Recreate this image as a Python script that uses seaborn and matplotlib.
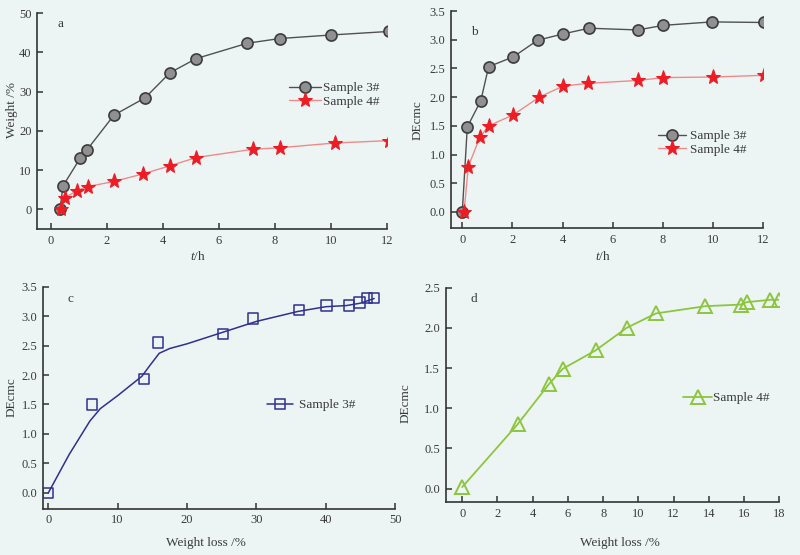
import numpy as np
import pandas as pd
import matplotlib
matplotlib.use("Agg")
import matplotlib.pyplot as plt
import seaborn as sns
from matplotlib.lines import Line2D

# panel a: weight vs time
a_t3 = [0.32, 0.43, 1.04, 1.29, 2.25, 3.36, 4.25, 5.19, 7.01, 8.17, 10.0, 12.06]
a_w3 = [0.0, 6.0, 13.0, 15.2, 24.0, 28.4, 34.8, 38.4, 42.3, 43.5, 44.4, 45.3]
a_t4 = [0.36, 0.51, 0.94, 1.31, 2.25, 3.27, 4.25, 5.19, 7.2, 8.18, 10.13, 12.07]
a_w4 = [0.0, 3.0, 4.8, 5.8, 7.1, 9.0, 11.1, 13.2, 15.3, 15.7, 16.9, 17.5]

# panel b: DEcmc vs time
b_t3 = [0.0, 0.2, 0.74, 1.05, 2.03, 3.0, 4.01, 5.05, 7.0, 8.01, 9.95, 12.01]
b_d3 = [0.0, 1.48, 1.94, 2.53, 2.70, 2.99, 3.10, 3.20, 3.17, 3.25, 3.31, 3.30]
b_t4 = [0.07, 0.24, 0.7, 1.05, 2.03, 3.07, 4.01, 5.0, 7.0, 8.01, 10.0, 12.04]
b_d4 = [0.0, 0.79, 1.30, 1.50, 1.69, 2.00, 2.19, 2.24, 2.29, 2.34, 2.35, 2.38]

# panel c: DEcmc vs weight loss, sample 3
c_loss = [0.0, 6.25, 13.8, 15.8, 25.2, 29.5, 36.2, 40.1, 43.4, 44.9, 46.0, 47.0]
c_de = [0.0, 1.50, 1.93, 2.55, 2.70, 2.96, 3.10, 3.18, 3.18, 3.23, 3.31, 3.31]
# fitted curve as drawn in the figure
c_fit_x = [0, 3, 6, 7.5, 10, 13.5, 14.5, 16, 17.5, 20, 25, 30, 36, 40, 43, 45, 47]
c_fit_y = [0, 0.65, 1.22, 1.43, 1.65, 1.98, 2.14, 2.37, 2.45, 2.53, 2.72, 2.91, 3.08, 3.16, 3.18, 3.22, 3.3]

# panel d: DEcmc vs weight loss, sample 4
d_loss = [0.0, 3.14, 4.92, 5.70, 7.57, 9.33, 11.0, 13.8, 15.8, 16.15, 17.5, 18.0]
d_de = [0.02, 0.80, 1.30, 1.49, 1.72, 2.0, 2.18, 2.27, 2.29, 2.32, 2.35, 2.35]

BG = "#edf5f4"
INK = "#3a3a3a"

sns.set_style("ticks", {"axes.facecolor": BG, "figure.facecolor": BG})
plt.rcParams['font.family'] = ['Liberation Serif', 'DejaVu Serif']
plt.rcParams['mathtext.fontset'] = 'custom'
plt.rcParams['mathtext.it'] = 'Liberation Serif:italic'
plt.rcParams['mathtext.rm'] = 'Liberation Serif'

W, H = 800, 555
fig = plt.figure(figsize=(8, 5.55), dpi=100)
fig.patch.set_facecolor(BG)


def box(x0, y0, x1, y1):
    return [x0 / W, 1 - y1 / H, (x1 - x0) / W, (y1 - y0) / H]


def ftext(x, y, s, **kw):
    fig.text(x / W, 1 - y / H, s, ha='center', va='center', color=INK, fontsize=9.5, **kw)


def style(ax, xticks, yticks, xlim, ylim, yfmt=None):
    sns.despine(ax=ax)
    for s in ['left', 'bottom']:
        ax.spines[s].set_color('#333333')
        ax.spines[s].set_linewidth(1.2)
    ax.set_xticks(xticks)
    ax.set_yticks(yticks)
    if yfmt:
        ax.set_yticklabels([yfmt.format(v) for v in yticks])
    ax.set_xlim(*xlim)
    ax.set_ylim(*ylim)
    ax.tick_params(direction='in', length=4, width=1.1, colors='#333333',
                   labelsize=9, labelcolor=INK, pad=4)
    ax.set_xlabel('')
    ax.set_ylabel('')


def legend(ax, x, y, hl, spacing=0.1, pad=0.2, handles=None, labels=None):
    kw = dict(loc='center left', bbox_to_anchor=(x / W, 1 - y / H),
              bbox_transform=fig.transFigure, frameon=False, fontsize=9.5,
              handlelength=hl, handletextpad=pad, labelspacing=spacing,
              borderpad=0, borderaxespad=0, labelcolor=INK)
    if handles is not None:
        ax.legend(handles, labels, **kw)
    else:
        ax.legend(**kw)


s3 = dict(marker='o', markersize=8, markerfacecolor='#909090', markeredgecolor='#3c3c3c',
          markeredgewidth=1.2, color='#505050', linewidth=1)
s4 = dict(marker='*', markersize=11, markerfacecolor='#ee1c24', markeredgecolor='#ee1c24',
          color='#f08a8a', linewidth=1)

# ---- a
ax = fig.add_axes(box(37, 13, 387, 229))
sns.lineplot(x=a_t3, y=a_w3, sort=False, ax=ax, label='Sample 3#', **s3)
sns.lineplot(x=a_t4, y=a_w4, sort=False, ax=ax, label='Sample 4#', **s4)
style(ax, range(0, 13, 2), range(0, 51, 10), (-0.5, 12), (-5, 50))
legend(ax, 289, 95, 2.4)
ftext(60, 24, 'a')
ftext(198, 256, '$t$/h')
ftext(12, 110, 'Weight /%', rotation=90)

# ---- b
ax = fig.add_axes(box(451, 11, 763.3, 228))
sns.lineplot(x=b_t3, y=b_d3, sort=False, ax=ax, label='Sample 3#', **s3)
sns.lineplot(x=b_t4, y=b_d4, sort=False, ax=ax, label='Sample 4#', **s4)
style(ax, range(0, 13, 2), np.arange(0, 3.51, 0.5), (-0.45, 12), (-0.28, 3.5), '{:.1f}')
legend(ax, 658, 143, 2.1, pad=0.3)
ftext(474, 32, 'b')
ftext(603, 256, '$t$/h')
ftext(418, 120, 'DEcmc', rotation=90)

# ---- c
blue = '#2e3192'
ax = fig.add_axes(box(43, 286.7, 395, 508.7))
sns.lineplot(x=c_fit_x, y=c_fit_y, sort=False, ax=ax, color=blue, linewidth=1.1)
sns.scatterplot(x=c_loss, y=c_de, ax=ax, marker='s', s=55, facecolor='none',
                edgecolor=blue, linewidth=1.1, zorder=3)
style(ax, range(0, 51, 10), np.arange(0, 3.51, 0.5), (-0.77, 50), (-0.27, 3.5), '{:.1f}')
h = Line2D([], [], color=blue, linewidth=1.1, marker='s', markersize=7,
           markerfacecolor='none', markeredgecolor=blue, markeredgewidth=1.1)
legend(ax, 267, 405, 2.0, pad=0.4, handles=[h], labels=['Sample 3#'])
ftext(70, 299, 'c')
ftext(206, 543, 'Weight loss /%')
ftext(12, 397, 'DEcmc', rotation=90)

# ---- d
green = '#8cc63f'
ax = fig.add_axes(box(445.7, 287.7, 779.3, 502.3))
sns.lineplot(x=d_loss, y=d_de, sort=False, ax=ax, color=green, linewidth=1.3,
             marker='^', markersize=10, markerfacecolor='none', markeredgecolor=green,
             markeredgewidth=1.4, label='Sample 4#')
style(ax, range(0, 19, 2), np.arange(0, 2.51, 0.5), (-0.94, 18), (-0.17, 2.5), '{:.1f}')
legend(ax, 683, 398, 2.2, pad=0.1)
ftext(474, 299, 'd')
ftext(620, 543, 'Weight loss /%')
ftext(406, 403, 'DEcmc', rotation=90)

fig.savefig('out.png', dpi=100, facecolor=BG)
